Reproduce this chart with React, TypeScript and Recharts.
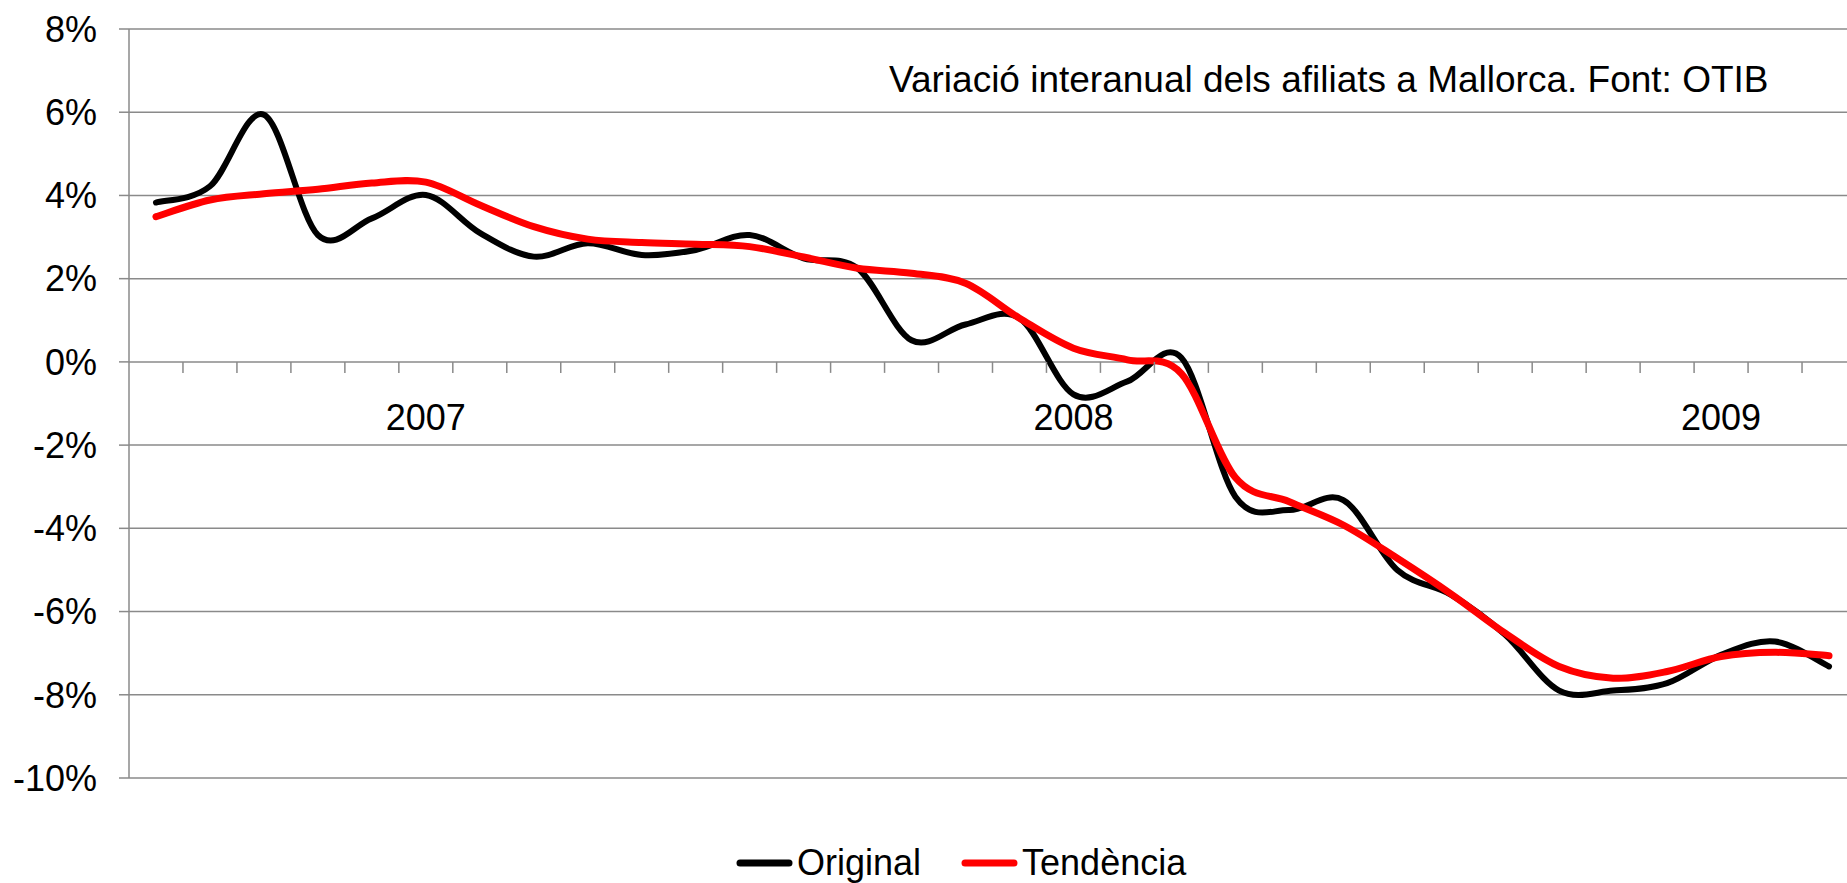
import { LineChart, Line, XAxis, YAxis, CartesianGrid, Legend, ReferenceDot } from 'recharts'

const FONT = '"Liberation Sans", Arial, Helvetica, sans-serif'
const GRID = '#8a8a8a'

// one category per month, Aug 2006 - Mar 2009
const MONTHS = [
  'ago-06', 'set-06', 'oct-06', 'nov-06', 'des-06',
  'gen-07', 'feb-07', 'mar-07', 'abr-07', 'mai-07', 'jun-07', 'jul-07', 'ago-07', 'set-07', 'oct-07', 'nov-07', 'des-07',
  'gen-08', 'feb-08', 'mar-08', 'abr-08', 'mai-08', 'jun-08', 'jul-08', 'ago-08', 'set-08', 'oct-08', 'nov-08', 'des-08',
  'gen-09', 'feb-09', 'mar-09'
]

const ORIGINAL = [
  3.83, 4.22, 5.94, 3.05, 3.45,
  4.01, 3.1, 2.53, 2.85, 2.57, 2.69, 3.05, 2.49, 2.25, 0.52, 0.9, 1.05,
  -0.78, -0.47, 0.1, -3.24, -3.56, -3.32, -5.0, -5.6, -6.56, -7.9, -7.9, -7.72,
  -7.04, -6.72, -7.32
]

const TREND = [
  3.49, 3.89, 4.04, 4.15, 4.3,
  4.32, 3.77, 3.25, 2.95, 2.87, 2.83, 2.77, 2.52, 2.25, 2.13, 1.89, 1.05,
  0.33, 0.05, -0.28, -2.78, -3.36, -3.92, -4.72, -5.58, -6.52, -7.32, -7.6, -7.44,
  -7.08, -6.98, -7.06
]

const YEAR_LABELS = [
  { month: 'gen-07', label: '2007' },
  { month: 'gen-08', label: '2008' },
  { month: 'gen-09', label: '2009' }
]

const Y_TICKS = [-10, -8, -6, -4, -2, 0, 2, 4, 6, 8]

const TITLE = 'Variació interanual dels afiliats a Mallorca. Font: OTIB'

// Excel style smoothed line (uniform Catmull-Rom through every point)
const excelSmooth = (context: any) => {
  let pts: number[][] = []
  return {
    areaStart() {},
    areaEnd() {},
    lineStart() {
      pts = []
    },
    point(x: number, y: number) {
      pts.push([+x, +y])
    },
    lineEnd() {
      if (!pts.length) return
      context.moveTo(pts[0][0], pts[0][1])
      for (let i = 0; i < pts.length - 1; i++) {
        const p0 = pts[i - 1] || pts[i]
        const p1 = pts[i]
        const p2 = pts[i + 1]
        const p3 = pts[i + 2] || p2
        context.bezierCurveTo(
          p1[0] + (p2[0] - p0[0]) / 6,
          p1[1] + (p2[1] - p0[1]) / 6,
          p2[0] - (p3[0] - p1[0]) / 6,
          p2[1] - (p3[1] - p1[1]) / 6,
          p2[0],
          p2[1]
        )
      }
    }
  }
}

const data = MONTHS.map((month, i) => ({
  month,
  x: i + 0.5,
  original: ORIGINAL[i],
  trend: TREND[i]
}))

// tick marks sit on the boundaries between months, on the 0% line
const boundaries = MONTHS.slice(1).map((_, i) => i + 1)

const TickMark = (props: any) => (
  <line x1={props.cx} y1={props.cy} x2={props.cx} y2={props.cy + 11} stroke={GRID} strokeWidth={1.5} />
)

const makeYearLabel = (label: string) => (props: any) => (
  <text
    x={props.cx}
    y={props.cy + 55}
    dy="0.355em"
    textAnchor="middle"
    fontFamily={FONT}
    fontSize={36}
    fill="#000"
  >
    {label}
  </text>
)

const renderLegend = (props: any) => (
  <div style={{ display: 'flex', alignItems: 'center', fontFamily: FONT, fontSize: 36, color: '#000', lineHeight: '40px' }}>
    {(props.payload || []).map((entry: any) => (
      <div key={entry.value} style={{ display: 'flex', alignItems: 'center', marginRight: 40 }}>
        <svg width={57} height={12}>
          <line x1={4} y1={6} x2={53} y2={6} stroke={entry.color} strokeWidth={7} strokeLinecap="round" />
        </svg>
        <span style={{ marginLeft: 4 }}>{entry.value}</span>
      </div>
    ))}
  </div>
)

export default function App() {
  return (
    <div style={{ position: 'absolute', left: 0, top: 0, width: 1847, height: 883, overflow: 'hidden', background: '#fff' }}>
      <LineChart width={1856} height={883} data={data} margin={{ top: 29, right: 0, bottom: 105, left: 0 }}>
        <CartesianGrid vertical={false} stroke={GRID} strokeWidth={1.5} />
        <XAxis dataKey="x" type="number" domain={[0, MONTHS.length]} hide />
        <YAxis
          type="number"
          domain={[-10, 8]}
          ticks={Y_TICKS}
          interval={0}
          width={129}
          axisLine={{ stroke: GRID, strokeWidth: 1.5 }}
          tickLine={{ stroke: GRID, strokeWidth: 1.5 }}
          tickSize={10}
          tickMargin={22}
          tick={{ fontSize: 36, fontFamily: FONT, fill: '#000' }}
          tickFormatter={(v) => `${v}%`}
        />
        {boundaries.map((k) => (
          <ReferenceDot key={'t' + k} x={k} y={0} r={0} shape={TickMark} />
        ))}
        {YEAR_LABELS.map((y) => (
          <ReferenceDot
            key={y.label}
            x={MONTHS.indexOf(y.month) + 0.5}
            y={0}
            r={0}
            shape={makeYearLabel(y.label)}
          />
        ))}
        <Line
          dataKey="original"
          name="Original"
          type={excelSmooth as any}
          stroke="#000000"
          strokeWidth={6}
          strokeLinecap="round"
          strokeLinejoin="round"
          dot={false}
          activeDot={false}
          isAnimationActive={false}
        />
        <Line
          dataKey="trend"
          name="Tendència"
          type={excelSmooth as any}
          stroke="#ff0000"
          strokeWidth={7}
          strokeLinecap="round"
          strokeLinejoin="round"
          dot={false}
          activeDot={false}
          isAnimationActive={false}
        />
        <Legend
          layout="horizontal"
          verticalAlign="middle"
          align="center"
          wrapperStyle={{ top: 843, left: 736, width: 'auto', height: 40 }}
          content={renderLegend}
        />
      </LineChart>
      <div
        style={{
          position: 'absolute',
          left: 889,
          top: 58,
          fontFamily: FONT,
          fontSize: 37,
          lineHeight: '44px',
          color: '#000',
          whiteSpace: 'nowrap'
        }}
      >
        {TITLE}
      </div>
    </div>
  )
}
